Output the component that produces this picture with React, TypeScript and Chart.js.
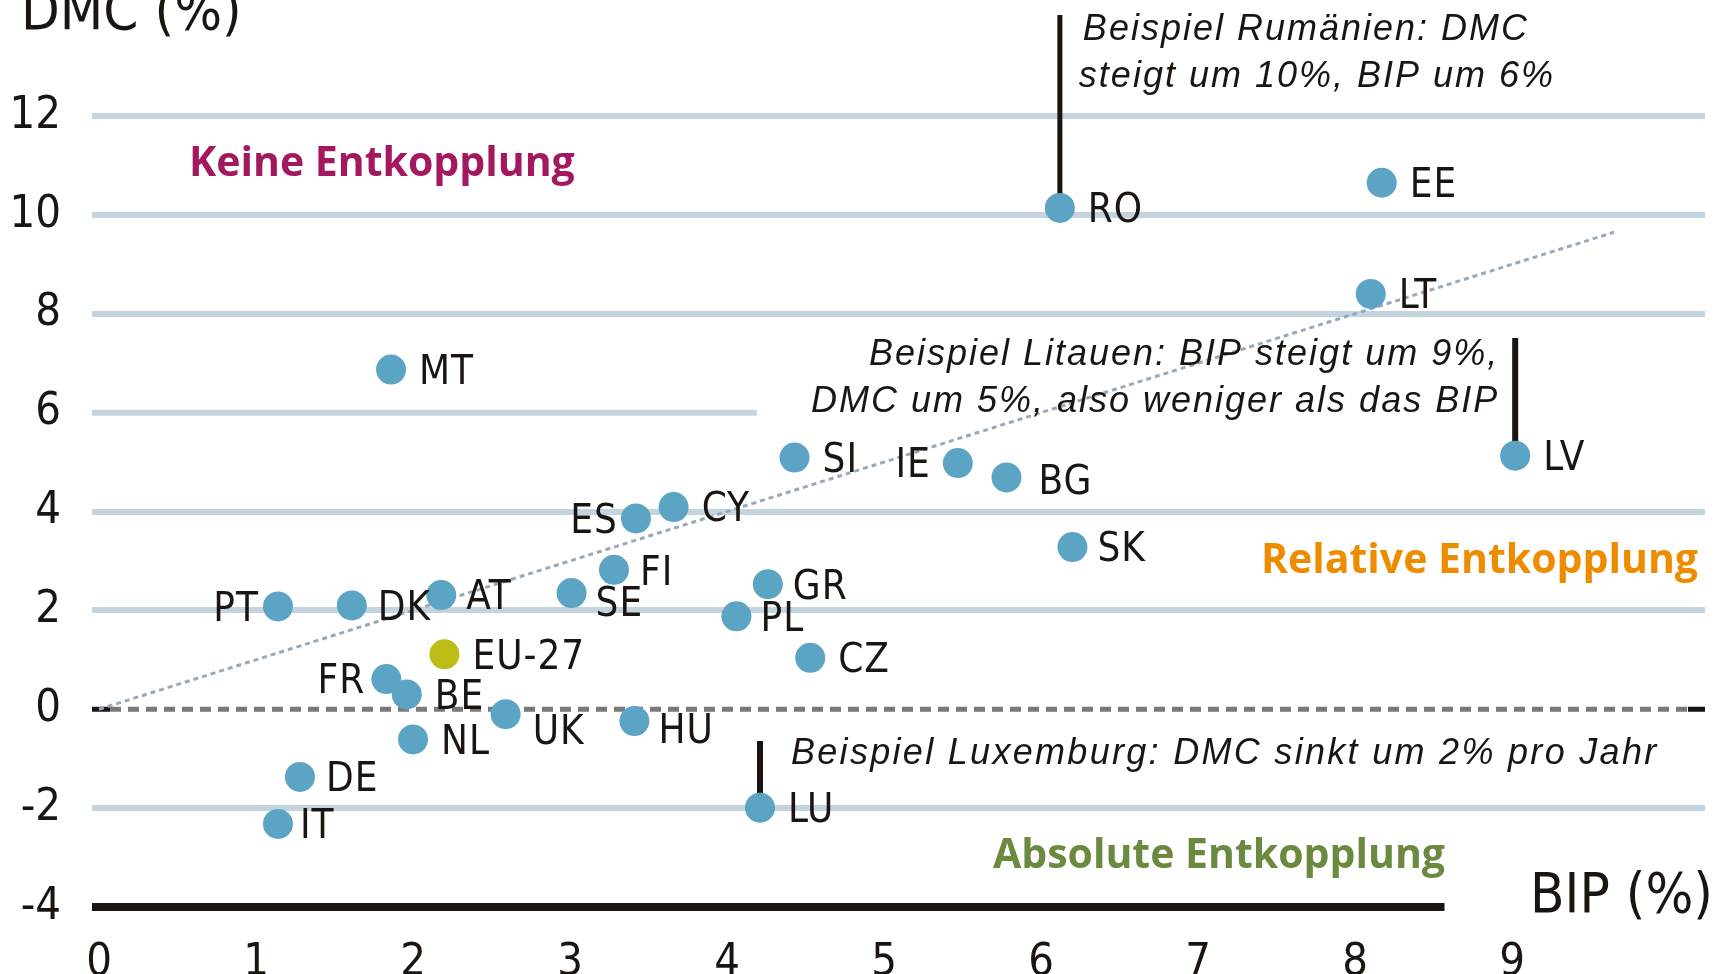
import React, { useEffect, useRef } from 'react';
import { Chart, registerables } from 'chart.js';

Chart.register(...registerables);

// ---------- data ----------
const countries = ['RO', 'EE', 'LT', 'MT', 'SI', 'IE', 'BG', 'LV', 'ES', 'CY', 'SK', 'FI', 'GR', 'PT', 'DK', 'AT', 'SE', 'PL', 'EU-27', 'CZ', 'FR', 'BE', 'UK', 'HU', 'NL', 'DE', 'IT', 'LU'];
const bipGrowth = [6.12, 8.17, 8.1, 1.86, 4.43, 5.47, 5.78, 9.02, 3.42, 3.66, 6.2, 3.28, 4.26, 1.14, 1.61, 2.18, 3.01, 4.06, 2.2, 4.53, 1.83, 1.96, 2.59, 3.41, 2.0, 1.28, 1.14, 4.21];
const dmcGrowth = [10.14, 10.65, 8.4, 6.87, 5.09, 4.98, 4.69, 5.13, 3.86, 4.09, 3.28, 2.82, 2.53, 2.08, 2.1, 2.31, 2.35, 1.88, 1.11, 1.04, 0.61, 0.3, -0.1, -0.24, -0.61, -1.37, -2.32, -1.99];
const trendX = [0, 9.65];
const trendY = [0, 9.65];
const xTicks = [0, 1, 2, 3, 4, 5, 6, 7, 8, 9];
const yTicks = [-4, -2, 0, 2, 4, 6, 8, 10, 12];

const xTitle = 'BIP (%)';
const yTitle = 'DMC (%)';
const zoneNone = 'Keine Entkopplung';
const zoneRelative = 'Relative Entkopplung';
const zoneAbsolute = 'Absolute Entkopplung';
const noteRomania = ['Beispiel Rumänien: DMC', 'steigt um 10%, BIP um 6%'];
const noteLatvia = ['Beispiel Litauen: BIP steigt um 9%,', 'DMC um 5%, also weniger als das BIP'];
const noteLuxembourg = 'Beispiel Luxemburg: DMC sinkt um 2% pro Jahr';

// ---------- styles ----------
const BLUE = '#5ca4c4';
const EU_COLOR = '#bcbe17';
const GRID = '#c4d4df';
const INK = '#1b1511';
const NARROW = "'Liberation Sans Narrow', 'DejaVu Sans Condensed', 'Liberation Sans', sans-serif";
const REGULAR = "'Liberation Sans', Arial, sans-serif";
const BOLD = "'Open Sans', 'Liberation Sans', sans-serif";

// y pixel target of the top grid line (layout)
const Y_TOP_TICK_PX = 116;
const Y_MIN = -4;
const Y_TOP_TICK = 12;

// label placement: [side, dx, dy]
const LABEL_BASE_DY = 4;
const labelPlace: Record<string, [string, number, number]> = {
  IE: ['left', 28, 0],
  ES: ['left', 19, 0],
  PT: ['left', 20, 0],
  FR: ['left', 22, 0],
  UK: ['right', 27, 15],
  HU: ['right', 24, 7],
  SE: ['right', 24, 9],
  BG: ['right', 32, 2],
  SK: ['right', 25, 0],
  FI: ['right', 26, 1],
  GR: ['right', 25, 0],
  DK: ['right', 26, 0],
  AT: ['right', 25, 0],
  PL: ['right', 24, 0],
  IT: ['right', 22, 0],
  DE: ['right', 26, 0],
};

function drawText(ctx: CanvasRenderingContext2D, s: string, x: number, y: number, font: string, color: string, align: CanvasTextAlign = 'left', baseline: CanvasTextBaseline = 'alphabetic', ls = 0) {
  ctx.font = font;
  ctx.fillStyle = color;
  ctx.textAlign = align;
  ctx.textBaseline = baseline;
  (ctx as any).letterSpacing = ls + 'px';
  ctx.fillText(s, align === 'right' ? x + ls : x, y);
  (ctx as any).letterSpacing = '0px';
}

function hLine(ctx: CanvasRenderingContext2D, x1: number, x2: number, y: number, color: string, w: number, dash: number[] = []) {
  ctx.beginPath();
  ctx.setLineDash(dash);
  ctx.strokeStyle = color;
  ctx.lineWidth = w;
  ctx.moveTo(x1, y);
  ctx.lineTo(x2, y);
  ctx.stroke();
  ctx.setLineDash([]);
}

function vLine(ctx: CanvasRenderingContext2D, x: number, y1: number, y2: number, color: string, w: number) {
  ctx.beginPath();
  ctx.strokeStyle = color;
  ctx.lineWidth = w;
  ctx.moveTo(x, y1);
  ctx.lineTo(x, y2);
  ctx.stroke();
}

const overlay = {
  id: 'overlay',
  beforeDatasetsDraw(chart: any) {
    const { ctx, chartArea: ca, scales } = chart;
    const x = scales.x, y = scales.y;
    ctx.save();
    // partial line at 6
    hLine(ctx, ca.left, x.getPixelForValue(4.19), y.getPixelForValue(6), GRID, 6);
    // zero line dashed with dark caps
    const y0 = y.getPixelForValue(0);
    hLine(ctx, ca.left + 18, ca.right - 17, y0, '#7a7a7a', 5, [11, 7]);
    hLine(ctx, ca.left, ca.left + 18, y0, INK, 5);
    hLine(ctx, ca.right - 17, ca.right, y0, INK, 5);
    // base line at -4
    hLine(ctx, ca.left, x.getPixelForValue(8.57), y.getPixelForValue(-4), INK, 8);
    // annotation stems
    const iRO = countries.indexOf('RO');
    const iLV = countries.indexOf('LV');
    const iLU = countries.indexOf('LU');
    vLine(ctx, x.getPixelForValue(bipGrowth[iRO]), 15, y.getPixelForValue(dmcGrowth[iRO]), INK, 5);
    vLine(ctx, x.getPixelForValue(bipGrowth[iLV]), 338, y.getPixelForValue(dmcGrowth[iLV]), INK, 6);
    vLine(ctx, x.getPixelForValue(bipGrowth[iLU]), 741, y.getPixelForValue(dmcGrowth[iLU]), INK, 6);
    ctx.restore();
  },
  afterDatasetsDraw(chart: any) {
    const { ctx, scales } = chart;
    const x = scales.x, y = scales.y;
    ctx.save();
    // country labels
    countries.forEach((c, i) => {
      const px = x.getPixelForValue(bipGrowth[i]);
      const py = y.getPixelForValue(dmcGrowth[i]) + LABEL_BASE_DY;
      const p = labelPlace[c] || ['right', 28, 0];
      if (p[0] === 'left') drawText(ctx, c, px - p[1], py + p[2], `40px ${NARROW}`, INK, 'right', 'middle', 1);
      else drawText(ctx, c, px + p[1], py + p[2], `40px ${NARROW}`, INK, 'left', 'middle', 1);
    });
    // titles
    drawText(ctx, yTitle, 21, 29, `56px ${NARROW}`, INK, 'left', 'alphabetic', 0);
    drawText(ctx, xTitle, 1713, 912, `56px ${NARROW}`, INK, 'right', 'alphabetic', 0);
    // zone labels
    drawText(ctx, zoneNone, 189, 176, `bold 41px ${BOLD}`, '#a3195f');
    drawText(ctx, zoneRelative, 1698, 573, `bold 41px ${BOLD}`, '#ee8c00', 'right');
    drawText(ctx, zoneAbsolute, 1445, 868, `bold 41px ${BOLD}`, '#6b8a3f', 'right');
    // notes
    const it = `italic 36px ${REGULAR}`;
    const iRO = countries.indexOf('RO');
    const rx = x.getPixelForValue(bipGrowth[iRO]) + 23;
    drawText(ctx, noteRomania[0], rx, 40, it, INK, 'left', 'alphabetic', 2);
    drawText(ctx, noteRomania[1], rx - 4, 87, it, INK, 'left', 'alphabetic', 2);
    const iLV = countries.indexOf('LV');
    const lx = x.getPixelForValue(bipGrowth[iLV]) - 18;
    drawText(ctx, noteLatvia[0], lx, 365, it, INK, 'right', 'alphabetic', 2);
    drawText(ctx, noteLatvia[1], lx, 412, it, INK, 'right', 'alphabetic', 2);
    const iLU = countries.indexOf('LU');
    drawText(ctx, noteLuxembourg, x.getPixelForValue(bipGrowth[iLU]) + 31, 764, it, INK, 'left', 'alphabetic', 2.3);
    ctx.restore();
  },
};

export default function App() {
  const ref = useRef<HTMLCanvasElement>(null);
  useEffect(() => {
    document.body.style.margin = '0';
    const canvas = ref.current!;
    const chart = new Chart(canvas, {
      type: 'scatter',
      data: {
        datasets: [
          {
            label: 'Länder',
            data: countries.map((_, i) => ({ x: bipGrowth[i], y: dmcGrowth[i] })),
            backgroundColor: countries.map((c) => (c === 'EU-27' ? EU_COLOR : BLUE)),
            pointRadius: 15,
            pointHoverRadius: 15,
            pointBorderWidth: 0,
            borderWidth: 0,
            order: 0,
          } as any,
          {
            type: 'line',
            label: 'Trend',
            data: trendX.map((v, i) => ({ x: v, y: trendY[i] })),
            borderColor: '#97a9bb',
            borderWidth: 3,
            borderDash: [5, 4],
            pointRadius: 0,
            fill: false,
            order: 1,
          } as any,
        ],
      },
      options: {
        animation: false,
        responsive: false,
        devicePixelRatio: 1,
        layout: { padding: { top: 0, right: 22, left: 0, bottom: 0 } },
        plugins: { legend: { display: false }, tooltip: { enabled: false } },
        scales: {
          x: {
            type: 'linear',
            min: -0.0446,
            max: 10.229,
            afterBuildTicks: (s: any) => {
              s.ticks = xTicks.map((v) => ({ value: v }));
            },
            afterFit: (s: any) => {
              s.height = 67;
              s.paddingLeft = 0;
              s.paddingRight = 0;
            },
            grid: { display: false },
            border: { display: false },
            ticks: {
              padding: 21,
              color: INK,
              font: { family: NARROW, size: 45 },
              callback: (v: any) => String(v),
            },
          },
          y: {
            type: 'linear',
            min: Y_MIN,
            max: 14.32,
            afterBuildTicks: (s: any) => {
              s.ticks = yTicks.map((v) => ({ value: v }));
            },
            afterFit: (s: any) => {
              s.width = 92;
              s.paddingTop = 0;
              s.paddingBottom = 0;
            },
            grid: {
              drawTicks: false,
              lineWidth: 6,
              color: (c: any) => ([0, 6, -4].includes(c.tick && c.tick.value) ? 'rgba(0,0,0,0)' : GRID),
            },
            border: { display: false },
            ticks: {
              padding: 31,
              color: INK,
              font: { family: NARROW, size: 45 },
              callback: (v: any) => String(v),
            },
          },
        },
      } as any,
      plugins: [overlay],
    });
    // fit the value range so that the outer grid lines land where the layout wants them
    const ca = chart.chartArea;
    const pxPerUnit = (ca.bottom - Y_TOP_TICK_PX) / (Y_TOP_TICK - Y_MIN);
    (chart.options.scales as any).y.max = Y_MIN + (ca.bottom - ca.top) / pxPerUnit;
    chart.update();
    return () => chart.destroy();
  }, []);
  return (
    <div style={{ position: 'fixed', left: 0, top: 0, width: 1727, height: 974, background: '#ffffff' }}>
      <canvas ref={ref} width={1727} height={974} style={{ width: 1727, height: 974, display: 'block' }} />
    </div>
  );
}
